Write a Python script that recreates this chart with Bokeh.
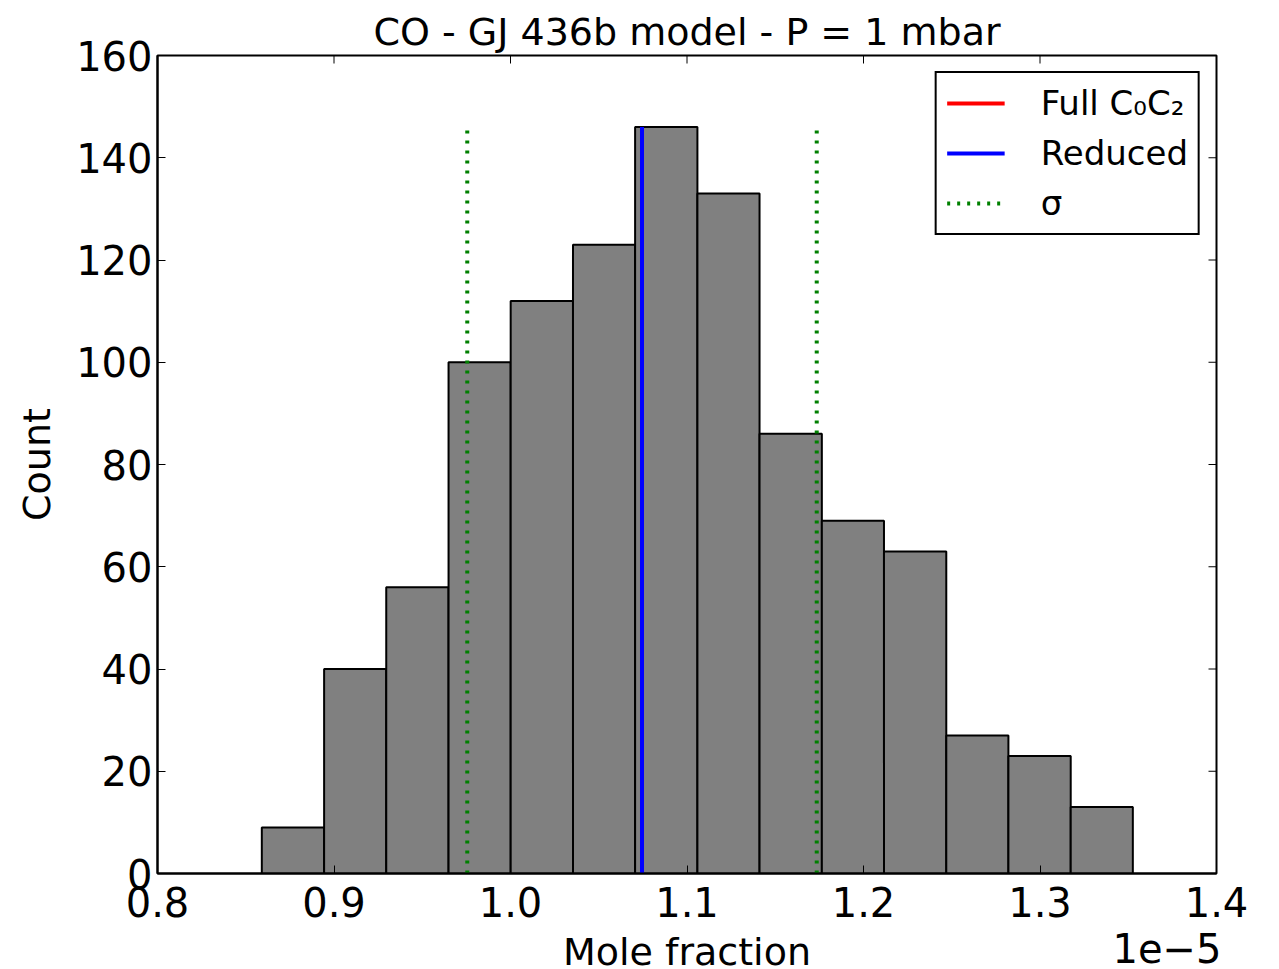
import math
from bokeh.plotting import figure
from bokeh.models import FixedTicker, PrintfTickFormatter, Label, Range1d, Legend
from bokeh.embed import file_html
from bokeh.resources import INLINE

# ---- data (mole fraction in units of 1e-5) ----
bin_edges = [0.8591, 0.8944, 0.9296, 0.9649, 1.0001, 1.0354, 1.0706, 1.1059,
             1.1411, 1.1764, 1.2116, 1.2469, 1.2821, 1.3174, 1.3526]
counts = [9, 40, 56, 100, 112, 123, 146, 133, 86, 69, 63, 27, 23, 13]
full_value = [1.0745]
reduced_value = [1.0745]
sigma_values = [0.9755, 1.1735]
line_top = [146]
x_ticks = [0.8, 0.9, 1.0, 1.1, 1.2, 1.3, 1.4]
y_ticks = [0, 20, 40, 60, 80, 100, 120, 140, 160]
x_min, x_max = 0.8, 1.4
y_min, y_max = 0, 160

FONT = "DejaVu Sans"

p = figure(frame_width=1059, frame_height=818,
           min_border_left=157, min_border_right=63,
           min_border_top=55, min_border_bottom=96,
           x_range=Range1d(x_min, x_max), y_range=Range1d(y_min, y_max),
           output_backend="svg", toolbar_location=None,
           title="CO - GJ 436b model - P = 1 mbar")

p.title.text_font = FONT
p.title.text_font_size = "38px"
p.title.text_font_style = "normal"
p.title.text_color = "black"
p.title.align = "center"
p.title.standoff = 4

p.xgrid.visible = False
p.ygrid.visible = False
p.outline_line_color = "black"
p.outline_line_width = 2
p.background_fill_color = "white"

p.quad(left=bin_edges[:-1], right=bin_edges[1:], top=counts, bottom=0,
       fill_color="#808080", line_color="black", line_width=2)

r_full = p.segment(x0=full_value, x1=full_value, y0=[0], y1=line_top,
                   line_color="#ff0000", line_width=4)
r_red = p.segment(x0=reduced_value, x1=reduced_value, y0=[0], y1=line_top,
                  line_color="#0000ff", line_width=4)
r_sig = p.segment(x0=sigma_values, x1=sigma_values, y0=[0, 0], y1=line_top * 2,
                  line_color="#008000", line_width=4, line_dash="3 7")

# inward ticks on the top and right edges (markers clipped by the frame)
p.scatter(x=x_ticks, y=[y_max] * len(x_ticks), marker="dash", angle=math.pi / 2,
          size=16, line_color="black", line_width=1)
p.scatter(x=[x_max] * len(y_ticks), y=y_ticks, marker="dash",
          size=16, line_color="black", line_width=1)

legend = Legend(items=[("Full C\u2080C\u2082", [r_full]),
                       ("Reduced", [r_red]),
                       ("\u03c3", [r_sig])],
                location="top_right")
legend.margin = 16
legend.padding = 10
legend.spacing = 10
legend.glyph_width = 58
legend.glyph_height = 34
legend.label_height = 34
legend.label_standoff = 36
legend.label_text_font = FONT
legend.label_text_font_size = "34px"
legend.label_text_color = "black"
legend.border_line_color = "black"
legend.border_line_width = 2
legend.border_line_alpha = 1.0
legend.background_fill_alpha = 1.0
p.add_layout(legend, "center")

# main axes
for ax in (p.xaxis[0], p.yaxis[0]):
    ax.major_tick_in = 8
    ax.major_tick_out = 0
    ax.minor_tick_in = 0
    ax.minor_tick_out = 0
    ax.major_label_text_font = FONT
    ax.major_label_text_font_size = "40px"
    ax.major_label_text_color = "black"
    ax.axis_label_text_font = FONT
    ax.axis_label_text_font_size = "38px"
    ax.axis_label_text_font_style = "normal"
    ax.axis_label_text_color = "black"
    ax.axis_line_color = "black"
    ax.axis_line_width = 2
    ax.major_tick_line_width = 1

p.xaxis.ticker = FixedTicker(ticks=x_ticks)
p.xaxis.formatter = PrintfTickFormatter(format="%.1f")
p.xaxis.axis_label = "Mole fraction"
p.xaxis.major_label_standoff = 13
p.xaxis.axis_label_standoff = 10

p.yaxis.ticker = FixedTicker(ticks=y_ticks)
p.yaxis.axis_label = "Count"
p.yaxis.major_label_standoff = 5
p.yaxis.axis_label_standoff = 14

# axis offset text, placed in the lower side panel so it is not clipped by the frame
offset = Label(x=x_max, y=-14.5, x_units="data", y_units="data", x_offset=5,
               text="1e\u22125", text_align="right", text_baseline="alphabetic",
               text_font=FONT, text_font_size="40px", text_color="black")
p.add_layout(offset, "below")

open("out.html", "w").write(file_html(p, INLINE))
